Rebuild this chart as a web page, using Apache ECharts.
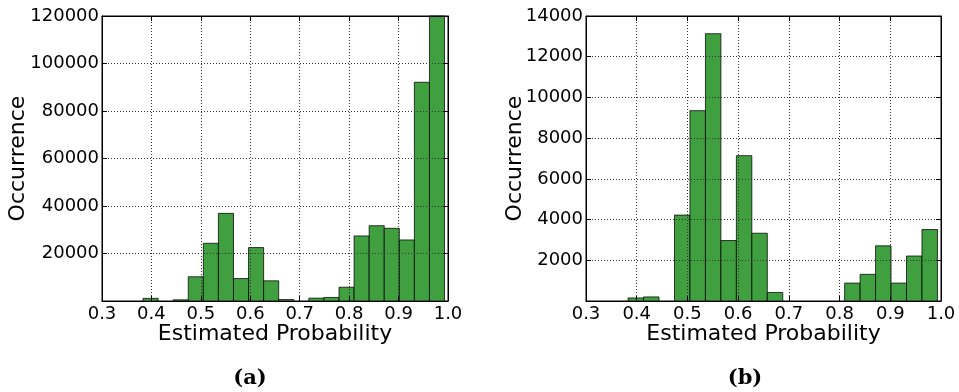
<!DOCTYPE html>
<html>
<head>
<meta charset="utf-8">
<script src="https://cdn.jsdelivr.net/npm/echarts@6/dist/echarts.min.js"></script>
<style>
  html, body { margin: 0; padding: 0; background: #fff; }
  #chart { width: 959px; height: 392px; }
</style>
</head>
<body>
<div id="chart"></div>
<script>
// Histogram bin edges (20 equal-width bins), shared by both panels
const binEdges = [0.383, 0.4135, 0.444, 0.4745, 0.505, 0.5355, 0.566, 0.5965, 0.627, 0.6575,
                  0.688, 0.7185, 0.749, 0.7795, 0.81, 0.8405, 0.871, 0.9015, 0.932, 0.9625, 0.993];

// Panel (a): occurrences per bin
const countsA = [1100, 0, 500, 10200, 24300, 36900, 9450, 22500, 8500, 600,
                 0, 1200, 1500, 5800, 27400, 31700, 30600, 25700, 92100, 120000];

// Panel (b): occurrences per bin
const countsB = [150, 200, 0, 4220, 9350, 13130, 2970, 7140, 3330, 420,
                 0, 0, 0, 0, 880, 1310, 2710, 880, 2210, 3510];

const xTicks = { min: 0.3, max: 1.0, interval: 0.1 };
const yTicksA = { min: 0, max: 120000, interval: 20000 };
const yTicksB = { min: 0, max: 14000, interval: 2000 };

const xTitle = 'Estimated Probability';
const yTitle = 'Occurrence';
const captions = ['(a)', '(b)'];

const FONT = 'DejaVu Sans';
const barFill = '#40a040';
const barEdge = 'rgba(0,0,0,0.75)';

function toBins(counts) {
  return counts.map((c, i) => [binEdges[i], binEdges[i + 1], c]);
}

// One rectangle per non-empty bin, from the bin's left edge to its right edge
function renderBin(params, api) {
  if (!api.value(2)) return null;
  const top = api.coord([api.value(0), api.value(2)]);
  const base = api.coord([api.value(1), 0]);
  return {
    type: 'rect',
    shape: { x: top[0], y: top[1], width: base[0] - top[0], height: base[1] - top[1] },
    style: { fill: barFill, stroke: barEdge, lineWidth: 1 }
  };
}

const gridLine = { show: true, lineStyle: { color: '#333', type: [1, 2], width: 1 } };
const inTick = { show: true, inside: true, length: 5, lineStyle: { color: '#000' } };
const axLine = { show: true, onZero: false, lineStyle: { color: '#000', width: 1 } };

function xAxes(gridIndex) {
  return [
    {
      type: 'value', gridIndex, position: 'bottom', z: 5,
      min: xTicks.min, max: xTicks.max, interval: xTicks.interval,
      axisLine: axLine, axisTick: inTick, splitLine: gridLine,
      axisLabel: {
        color: '#000', fontFamily: FONT, fontSize: 18, margin: 4,
        formatter: v => v.toFixed(1)
      },
      name: xTitle, nameLocation: 'middle', nameGap: 22, nameMoveOverlap: false,
      nameTextStyle: { color: '#000', fontFamily: FONT, fontSize: 22 }
    },
    {
      type: 'value', gridIndex, position: 'top', z: 5,
      min: xTicks.min, max: xTicks.max, interval: xTicks.interval,
      axisLine: axLine, axisTick: inTick, splitLine: { show: false },
      axisLabel: { show: false }
    }
  ];
}

function yAxes(gridIndex, ticks, gap) {
  return [
    {
      type: 'value', gridIndex, position: 'left', z: 5,
      min: ticks.min, max: ticks.max, interval: ticks.interval,
      axisLine: axLine, axisTick: inTick, splitLine: gridLine,
      axisLabel: {
        color: '#000', fontFamily: FONT, fontSize: 18, margin: 3,
        formatter: v => (v === 0 ? '' : String(v))
      },
      name: yTitle, nameLocation: 'middle', nameGap: gap, nameMoveOverlap: false,
      nameTextStyle: { color: '#000', fontFamily: FONT, fontSize: 22 }
    },
    {
      type: 'value', gridIndex, position: 'right', z: 5,
      min: ticks.min, max: ticks.max, interval: ticks.interval,
      axisLine: axLine, axisTick: inTick, splitLine: { show: false },
      axisLabel: { show: false }
    }
  ];
}

const chart = echarts.init(document.getElementById('chart'), null, { renderer: 'canvas' });

chart.setOption({
  animation: false,
  backgroundColor: '#fff',
  grid: [
    { left: 102, top: 16, width: 346, height: 285, show: true, borderColor: '#000', borderWidth: 1 },
    { left: 586, top: 16, width: 355, height: 285, show: true, borderColor: '#000', borderWidth: 1 }
  ],
  xAxis: [...xAxes(0), ...xAxes(1)],
  yAxis: [...yAxes(0, yTicksA, 73), ...yAxes(1, yTicksB, 60)],
  series: [
    {
      type: 'custom', xAxisIndex: 0, yAxisIndex: 0, z: 2,
      renderItem: renderBin, encode: { x: [0, 1], y: 2 },
      data: toBins(countsA)
    },
    {
      type: 'custom', xAxisIndex: 2, yAxisIndex: 2, z: 2,
      renderItem: renderBin, encode: { x: [0, 1], y: 2 },
      data: toBins(countsB)
    }
  ],
  graphic: [
    {
      type: 'text', x: 250, y: 379,
      style: {
        text: captions[0], fill: '#000', font: 'bold 21px "DejaVu Serif"',
        textAlign: 'center', textVerticalAlign: 'middle'
      }
    },
    {
      type: 'text', x: 745, y: 379,
      style: {
        text: captions[1], fill: '#000', font: 'bold 21px "DejaVu Serif"',
        textAlign: 'center', textVerticalAlign: 'middle'
      }
    }
  ]
});
</script>
</body>
</html>
